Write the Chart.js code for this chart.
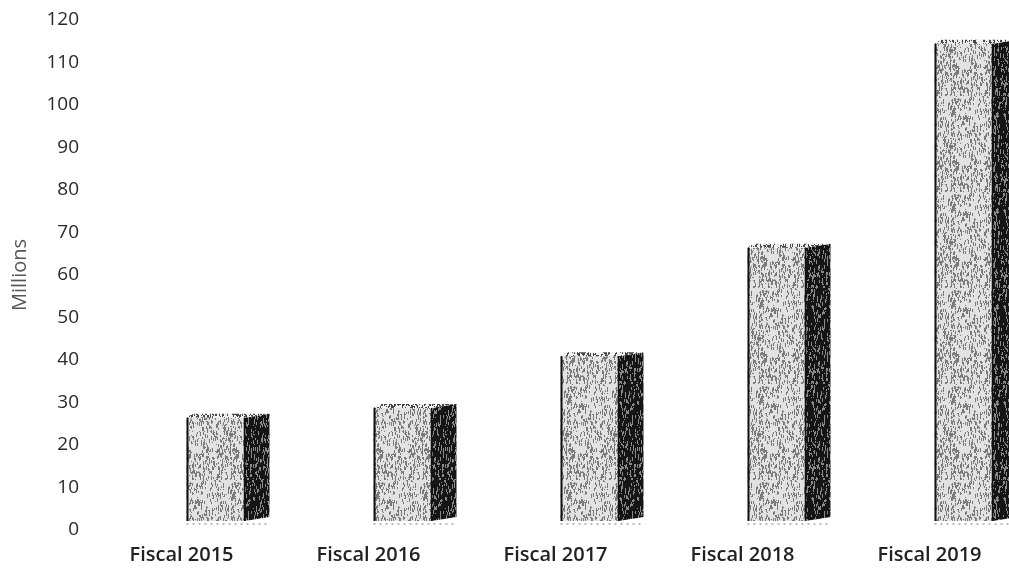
<!DOCTYPE html>
<html>
<head>
<meta charset="utf-8">
<title>Fiscal revenue</title>
<script src="https://cdn.jsdelivr.net/npm/chart.js@4.4.0/dist/chart.umd.min.js"></script>
<style>
    html, body { margin: 0; padding: 0; background: #fff; overflow: hidden; }
    #wrap { width: 1060px; height: 572px; }
</style>
</head>
<body>
<div id="wrap"><canvas id="chart" width="1060" height="572"></canvas></div>
<script>
const categories = ["Fiscal 2015", "Fiscal 2016", "Fiscal 2017", "Fiscal 2018", "Fiscal 2019"];
const values = [26.4, 28.7, 40.9, 66.4, 114.4];
const yMin = 0;
const yMax = 120;
const yStep = 10;

/* ===============================
   Scanned-paper textures
================================ */
function makeTexture(base, speck, density, seed) {
    const c = document.createElement('canvas');
    c.width = 48; c.height = 96;
    const g = c.getContext('2d');
    g.fillStyle = base;
    g.fillRect(0, 0, c.width, c.height);
    let s = seed;
    const rnd = () => { s = (s * 16807) % 2147483647; return s / 2147483647; };
    g.fillStyle = speck;
    for (let i = 0; i < density; i++) {
        const px = Math.floor(rnd() * c.width);
        const py = Math.floor(rnd() * c.height);
        g.fillRect(px, py, 1, 1 + Math.floor(rnd() * 4));
    }
    return g.createPattern(c, 'repeat');
}

/* ===============================
   3D bar look (front, side, top)
================================ */
const bar3d = {
    id: 'bar3d',
    afterDatasetsDraw(chart) {
        const ctx = chart.ctx;
        const front = makeTexture('#e2e2e2', '#7a7a7a', 650, 7);
        const side = makeTexture('#151515', '#8a8a8a', 500, 13);
        const topTex = makeTexture('#f0f0f0', '#444', 900, 29);
        const meta = chart.getDatasetMeta(0);
        const depthX = 25, depthY = 4, lift = 9;
        meta.data.forEach(bar => {
            const { x, y, base, width } = bar.getProps(['x', 'y', 'base', 'width'], true);
            const l = x - width / 2, r = x + width / 2, b = base - lift;
            ctx.save();
            // front face
            ctx.fillStyle = front;
            ctx.fillRect(l, y, width, b - y);
            // side face
            ctx.beginPath();
            ctx.moveTo(r, y);
            ctx.lineTo(r + depthX, y - depthY);
            ctx.lineTo(r + depthX, b - depthY);
            ctx.lineTo(r, b);
            ctx.closePath();
            ctx.fillStyle = side;
            ctx.fill();
            // top face
            ctx.beginPath();
            ctx.moveTo(l, y);
            ctx.lineTo(l + 6, y - depthY);
            ctx.lineTo(r + depthX, y - depthY);
            ctx.lineTo(r, y);
            ctx.closePath();
            ctx.fillStyle = topTex;
            ctx.fill();
            // edges
            ctx.strokeStyle = '#111';
            ctx.lineWidth = 2;
            ctx.beginPath();
            ctx.moveTo(l + 1, y);
            ctx.lineTo(l + 1, b);
            ctx.stroke();
            ctx.lineWidth = 1.5;
            ctx.beginPath();
            ctx.moveTo(r, y);
            ctx.lineTo(r, b);
            ctx.stroke();
            ctx.setLineDash([2, 4]);
            ctx.strokeStyle = '#777';
            ctx.lineWidth = 1;
            ctx.beginPath();
            ctx.moveTo(l, b + 3);
            ctx.lineTo(r + depthX, b + 3);
            ctx.stroke();
            ctx.restore();
        });
    }
};

new Chart(document.getElementById('chart'), {
    type: 'bar',
    plugins: [bar3d],
    data: {
        labels: categories,
        datasets: [{
            data: values,
            backgroundColor: 'rgba(0,0,0,0)',
            borderWidth: 0,
            barPercentage: 0.31,
            categoryPercentage: 1
        }]
    },
    options: {
        responsive: false,
        animation: false,
        layout: { padding: { top: 20, right: 3, left: 0, bottom: 0 } },
        plugins: { legend: { display: false }, tooltip: { enabled: false } },
        scales: {
            x: {
                grid: { display: false },
                border: { display: false },
                ticks: {
                    color: '#222',
                    labelOffset: -34,
                    padding: 5,
                    maxRotation: 0,
                    font: { family: 'Open Sans', size: 20, weight: '600' }
                },
                afterFit: s => { s.height = 42; s.paddingLeft = 0; s.paddingRight = 0; }
            },
            y: {
                min: yMin,
                max: yMax,
                grid: { display: false },
                border: { display: false },
                ticks: {
                    stepSize: yStep,
                    color: '#2a2a2a',
                    padding: 35,
                    font: { family: 'Open Sans', size: 19 }
                },
                title: {
                    display: true,
                    text: 'Millions',
                    color: '#555',
                    padding: { top: 8, bottom: 0 },
                    font: { family: 'Open Sans', size: 20 }
                },
                afterFit: s => { s.width = 122; s.paddingTop = 0; s.paddingBottom = 0; }
            }
        }
    }
});
</script>
</body>
</html>
